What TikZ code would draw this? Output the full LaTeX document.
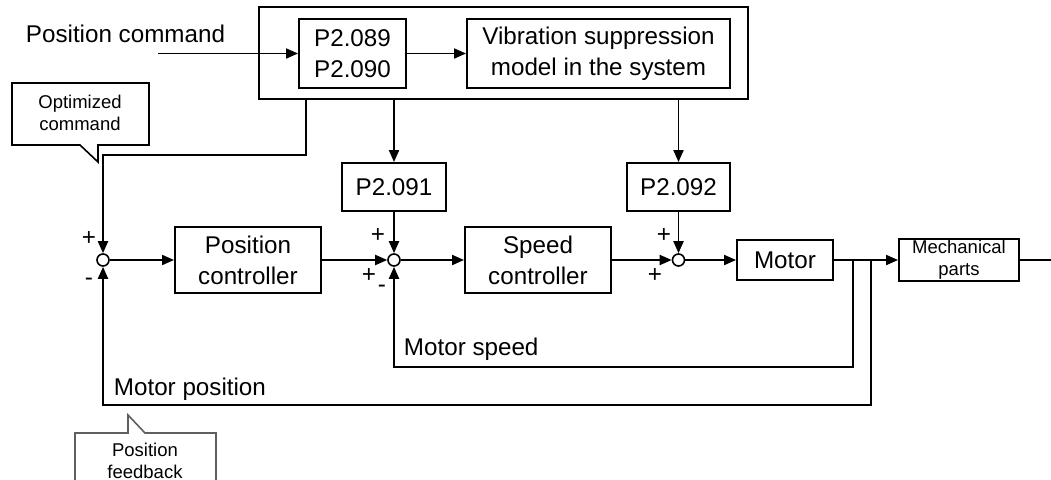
\documentclass[tikz,border=0pt]{standalone}
\usepackage{fontspec}
\setmainfont{Liberation Sans}
\usetikzlibrary{arrows.meta}
\begin{document}
\begin{tikzpicture}[x=1pt,y=-1pt, line width=1.9pt,
  >={Triangle[length=12pt,width=10pt]},
  blk/.style={draw, inner sep=0pt, align=center, font=\fontsize{24.2}{31}\selectfont},
  sumj/.style={draw, circle, minimum size=12pt, inner sep=0pt, line width=1.6pt},
  lbl/.style={inner sep=0pt, font=\fontsize{24.2}{31}\selectfont},
  small/.style={inner sep=0pt, align=center, font=\fontsize{18.5}{22}\selectfont},
  callout/.style={line width=1.6pt},
]
\useasboundingbox (0,0) rectangle (1051,479);

% top group
\node[draw, minimum width=489pt, minimum height=92pt] (outer) at (503.5,53) {};
\node[blk, minimum width=107pt, minimum height=69pt] (p089) at (352.5,53.5) {P2.089\\P2.090};
\node[blk, minimum width=263pt, minimum height=69pt] (vib) at (598.5,53.5) {Vibration suppression\\model in the system};
\node[lbl, anchor=base west] (pcmd) at (25,42) {Position command};
\coordinate (pcin) at (158,53.5);
\draw[->] (pcin) -- (p089.west);
\draw[->] (p089) -- (vib);

% parameter boxes
\node[blk, minimum width=104pt, minimum height=48pt] (p091) at (394,187) {P2.091};
\node[blk, minimum width=103pt, minimum height=48pt] (p092) at (678.5,187) {P2.092};

% main loop
\node[sumj] (s1) at (103,260) {};
\node[sumj] (s2) at (394,260) {};
\node[sumj] (s3) at (678.5,260) {};
\node[blk, minimum width=146pt, minimum height=66pt] (posc) at (248,260) {Position\\controller};
\node[blk, minimum width=146pt, minimum height=66pt] (spc) at (538,260) {Speed\\controller};
\node[blk, minimum width=96pt, minimum height=40pt] (motor) at (785,260) {Motor};
\node[draw, small, minimum width=120pt, minimum height=42pt] (mech) at (959,260) {Mechanical\\parts};

% connectors from top group
\coordinate (o1) at (306,99);
\coordinate (k1) at (306,155);
\draw[->] (o1) -- (k1) -| (s1.north);
\draw[->] (p091 |- outer.south) -- (p091.north);
\draw[->] (p092 |- outer.south) -- (p092.north);
\draw[->] (p091) -- (s2);
\draw[->] (p092) -- (s3);

% forward path
\draw[->] (s1) -- (posc);
\draw[->] (posc) -- (s2);
\draw[->] (s2) -- (spc);
\draw[->] (spc) -- (s3);
\draw[->] (s3) -- (motor);
\draw[->] (motor) -- (mech);
\coordinate (outR) at (1051,260);
\draw (mech) -- (outR);

% feedback
\coordinate (b1) at (853,260);
\coordinate (b2) at (871,260);
\coordinate (fb1) at (853,367);
\coordinate (fb2) at (871,405);
\draw[->] (b1) -- (fb1) -| (s2.south);
\draw[->] (b2) -- (fb2) -| (s1.south);
\node[lbl, anchor=base west] (ms) at (403,355) {Motor speed};
\node[lbl, anchor=base west] (mp) at (113,395) {Motor position};

% signs
\node[lbl] (s1p) at (89,239) {+};
\node[lbl] (s1m) at (89,282) {-};
\node[lbl] (s2p) at (378,236) {+};
\node[lbl] (s2p2) at (369,276) {+};
\node[lbl] (s2m) at (382,289) {-};
\node[lbl] (s3p) at (664,236) {+};
\node[lbl] (s3p2) at (655,276) {+};

% callouts
\draw[callout] (12,83) -- (149,83) -- (149,145) -- (98,145) -- (98,162) -- (80,145) -- (12,145) -- cycle;
\node[small] (oc) at (80,113) {Optimized\\command};
\draw[callout, draw={rgb,255:red,95;green,95;blue,95}] (75,490) -- (75,433) -- (128,433) -- (128,415) -- (145,433) -- (216,433) -- (216,490);
\node[small] (pf) at (145,461) {Position\\feedback};
\end{tikzpicture}
\end{document}
